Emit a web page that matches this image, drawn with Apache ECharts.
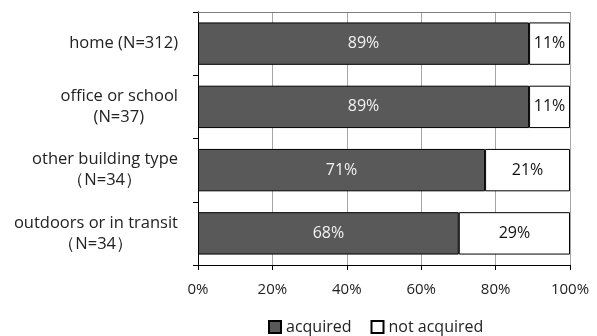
<!DOCTYPE html>
<html>
<head>
<meta charset="utf-8">
<script src="https://cdn.jsdelivr.net/npm/echarts@6/dist/echarts.min.js"></script>
<style>html,body{margin:0;padding:0;background:#fff}#c{width:597px;height:336px}</style>
</head>
<body>
<div id="c"></div>
<script>
const categories = [
  "home (N=312)",
  "office or school\n(N=37)",
  "other building type\n\uff08N=34\uff09",
  "outdoors or in transit\n\uff08N=34\uff09"
];
const acquired = [89, 89, 71, 68];
const notAcquired = [11, 11, 21, 29];
const xTicks = [0, 20, 40, 60, 80, 100];

const FONT = '"Open Sans", "Noto Sans", sans-serif';
const LABEL_SIZE = 16.5;
const LH = 21;
const ctx = document.createElement('canvas').getContext('2d');
ctx.font = LABEL_SIZE + 'px ' + FONT;
function w(t){ return ctx.measureText(t).width; }

const accShare = acquired.map((a, i) => a / (a + notAcquired[i]) * 100);
const notShare = notAcquired.map((n, i) => n / (acquired[i] + n) * 100);

const rich = { b: { fontSize: LABEL_SIZE, color: '#222', lineHeight: LH } };
categories.forEach(c => {
  const parts = c.split('\n');
  if (parts.length > 1) {
    const pad = Math.max(0, Math.round((w(parts[0]) - w(parts[1])) / 2));
    rich['s' + pad] = { width: pad, lineHeight: LH };
  }
});

const chart = echarts.init(document.getElementById('c'));
chart.setOption({
  animation: false,
  textStyle: { fontFamily: FONT },
  grid: { left: 198, right: 27, top: 12, bottom: 71, containLabel: false },
  legend: {
    bottom: -4, left: 263,
    icon: 'rect', itemWidth: 12, itemHeight: 12, itemGap: 19,
    textStyle: { fontSize: 16, color: '#222' },
    data: ['acquired', 'not acquired']
  },
  xAxis: [{
    type: 'value', min: xTicks[0], max: xTicks[xTicks.length - 1], interval: 20,
    axisLine: { show: true, lineStyle: { color: '#000', width: 1 } },
    axisTick: { show: true, length: 5, lineStyle: { color: '#000' } },
    axisLabel: { formatter: '{value}%', fontSize: 15, color: '#222', margin: 17 },
    splitLine: { show: true, lineStyle: { color: '#a6a6a6', width: 1 } }
  }, {
    type: 'value', position: 'top', min: 0, max: 100,
    axisLine: { show: true, lineStyle: { color: '#7f7f7f', width: 1 } },
    axisTick: { show: false }, axisLabel: { show: false }, splitLine: { show: false }
  }],
  yAxis: [{
    type: 'category', inverse: true, data: categories,
    axisLine: { show: true, lineStyle: { color: '#000', width: 1 } },
    axisTick: { show: true, length: 5, lineStyle: { color: '#000' } },
    axisLabel: {
      margin: 20, fontSize: LABEL_SIZE, color: '#222', lineHeight: LH,
      formatter: function (v) {
        const parts = v.split('\n');
        if (parts.length === 1) return v;
        const pad = Math.max(0, Math.round((w(parts[0]) - w(parts[1])) / 2));
        return parts[0] + '\n{b|' + parts[1] + '}{s' + pad + '|}';
      },
      rich: rich
    }
  }, {
    type: 'category', position: 'right', inverse: true, data: categories,
    axisLine: { show: true, lineStyle: { color: '#000', width: 1 } },
    axisTick: { show: false }, axisLabel: { show: false }
  }],
  series: [{
    name: 'acquired', type: 'bar', stack: 'total', barCategoryGap: '33%',
    data: accShare,
    itemStyle: { color: '#595959', borderColor: '#000', borderWidth: 1 },
    label: {
      show: true, position: 'inside', color: '#f2f2f2', fontSize: 16,
      formatter: p => acquired[p.dataIndex] + '%'
    }
  }, {
    name: 'not acquired', type: 'bar', stack: 'total', barCategoryGap: '33%',
    data: notShare,
    itemStyle: { color: '#ffffff', borderColor: '#000', borderWidth: 1 },
    label: {
      show: true, position: 'inside', color: '#111', fontSize: 16,
      formatter: p => notAcquired[p.dataIndex] + '%'
    }
  }]
});
</script>
</body>
</html>
